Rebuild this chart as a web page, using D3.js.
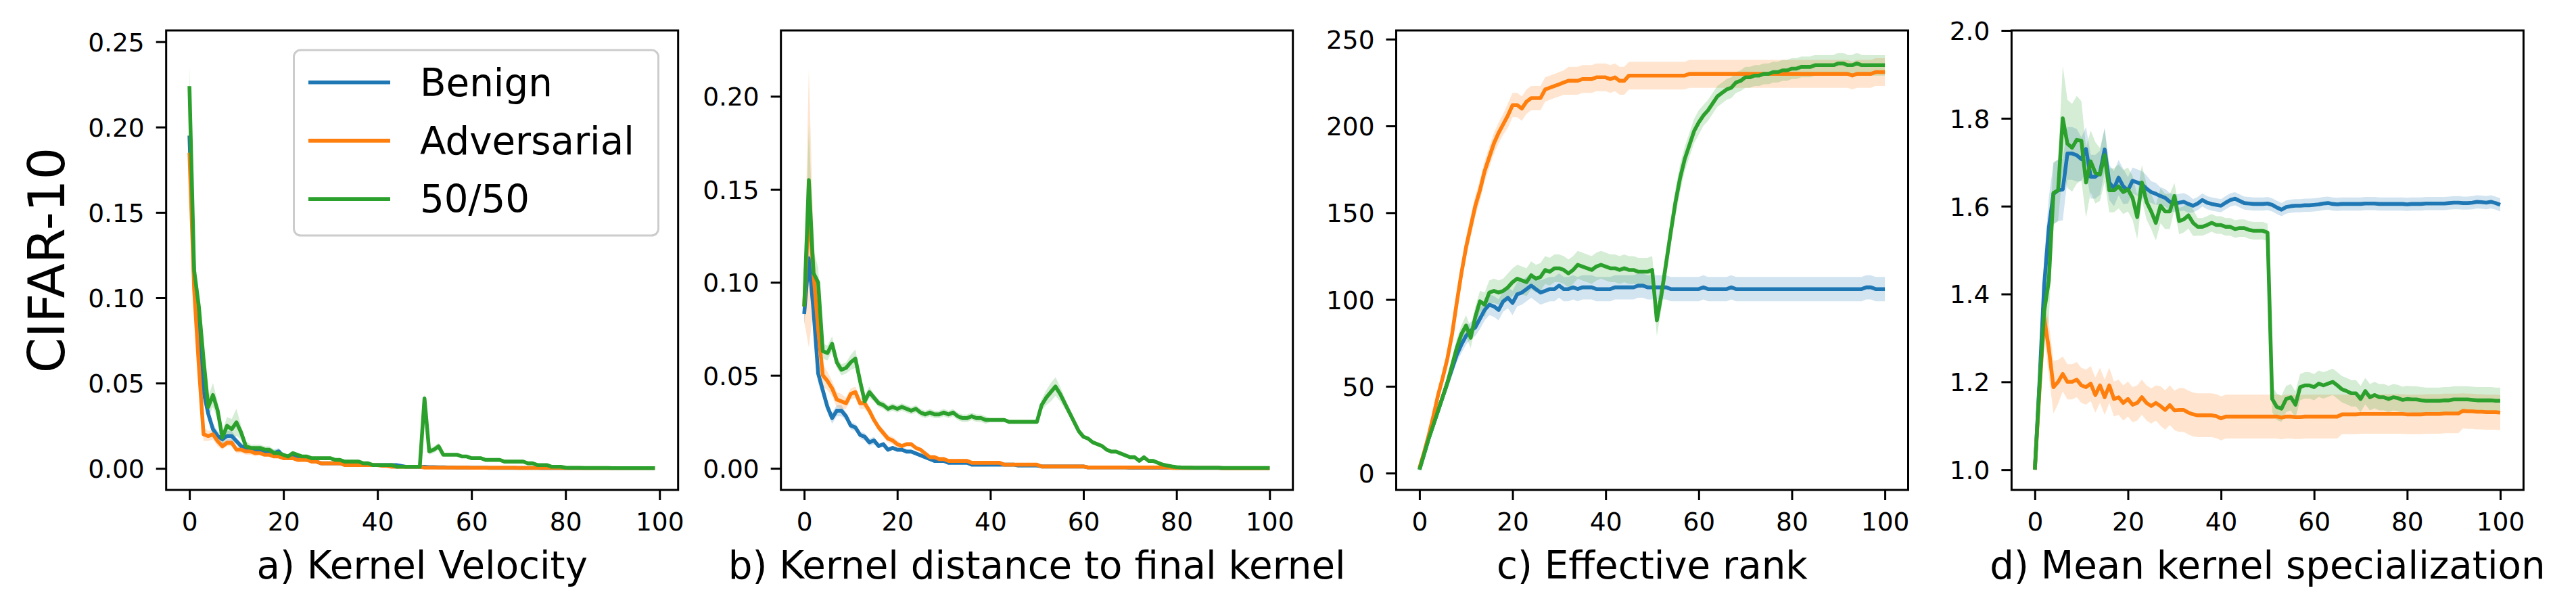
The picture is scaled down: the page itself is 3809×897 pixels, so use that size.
<!DOCTYPE html>
<html>
<head>
<meta charset="utf-8">
<script src="https://cdn.jsdelivr.net/npm/d3@7"></script>
<style>
  html, body { margin: 0; padding: 0; background: #ffffff; }
  svg { display: block; }
  text { font-family: "DejaVu Sans", sans-serif; fill: #000; }
</style>
</head>
<body>
<svg id="chart" width="3809" height="897"></svg>
<script>
// ---------------- DATA ----------------
const seriesNames = ["Benign", "Adversarial", "50/50"];
const panelTitles = ["a) Kernel Velocity", "b) Kernel distance to final kernel", "c) Effective rank", "d) Mean kernel specialization"];
const rowLabel = "CIFAR-10";
const xTicks = [0, 20, 40, 60, 80, 100];
const yTicksA = [0.00, 0.05, 0.10, 0.15, 0.20, 0.25];
const yTicksB = [0.00, 0.05, 0.10, 0.15, 0.20];
const yTicksC = [0, 50, 100, 150, 200, 250];
const yTicksD = [1.0, 1.2, 1.4, 1.6, 1.8, 2.0];

// a) Kernel Velocity (epochs 0..99)
const benignA = [0.195,0.112,0.080,0.045,0.032,0.023,0.019,0.017,0.019,0.019,
0.016,0.013,0.012,0.011,0.011,0.010,0.010,0.009,0.009,0.010,
0.007,0.007,0.008,0.006,0.006,0.005,0.005,0.004,0.003,0.003,
0.003,0.003,0.003,0.003,0.002,0.002,0.002,0.002,0.002,0.002,
0.002,0.002,0.002,0.002,0.002,0.0015,0.001,0.001,0.001,0.001,
0.001,0.0008,0.0008,0.0007,0.0007,0.0006,0.0006,0.0005,0.0005,0.0005,
0.0004,0.0004,0.0004,0.0004,0.0003,0.0003,0.0003,0.0003,0.0003,0.0003,
0.0003,0.0003,0.0003,0.0003,0.0003,0.0002,0.0002,0.0002,0.0002,0.0002,
0.0002,0.0002,0.0002,0.0002,0.0002,0.0002,0.0002,0.0002,0.0002,0.0002,
0.0002,0.0002,0.0002,0.0002,0.0002,0.0002,0.0002,0.0002,0.0002,0.0002];
const advA = [0.185,0.105,0.060,0.020,0.019,0.020,0.016,0.013,0.015,0.015,
0.011,0.011,0.010,0.010,0.009,0.009,0.008,0.008,0.007,0.007,
0.006,0.006,0.006,0.005,0.005,0.005,0.004,0.004,0.003,0.003,
0.003,0.003,0.003,0.002,0.002,0.002,0.002,0.002,0.002,0.002,
0.002,0.0015,0.0015,0.001,0.001,0.001,0.001,0.001,0.001,0.001,
0.0005,0.0005,0.0005,0.0005,0.0005,0.0005,0.0005,0.0005,0.0005,0.0005,
0.0004,0.0004,0.0004,0.0004,0.0004,0.0004,0.0004,0.0004,0.0004,0.0004,
0.0003,0.0003,0.0003,0.0003,0.0003,0.0003,0.0003,0.0003,0.0003,0.0003,
0.0002,0.0002,0.0002,0.0002,0.0002,0.0002,0.0002,0.0002,0.0002,0.0002,
0.0002,0.0002,0.0002,0.0002,0.0002,0.0002,0.0002,0.0002,0.0002,0.0002];
const mixA = [0.224,0.116,0.095,0.064,0.036,0.043,0.034,0.018,0.025,0.023,
0.027,0.021,0.013,0.012,0.012,0.012,0.011,0.011,0.009,0.009,
0.008,0.007,0.009,0.008,0.007,0.007,0.006,0.006,0.006,0.006,
0.006,0.005,0.005,0.004,0.004,0.004,0.004,0.003,0.003,0.002,
0.002,0.002,0.002,0.002,0.001,0.001,0.001,0.001,0.001,0.001,
0.041,0.010,0.011,0.013,0.008,0.008,0.008,0.008,0.007,0.007,
0.006,0.006,0.006,0.005,0.005,0.005,0.005,0.004,0.004,0.004,
0.004,0.004,0.003,0.003,0.002,0.002,0.002,0.001,0.001,0.001,
0.0005,0.0004,0.0004,0.0004,0.0003,0.0003,0.0003,0.0003,0.0003,0.0003,
0.0002,0.0002,0.0002,0.0002,0.0002,0.0002,0.0002,0.0002,0.0002,0.0002];
const benignStdA = [0.010,0.008,0.006,0.005,0.004,0.003,0.003,0.003,0.003,0.003,
0.002,0.002,0.002,0.002,0.002,0.002,0.002,0.002,0.002,0.002,
0.001,0.001,0.001,0.001,0.001,0.001,0.001,0.001,0.001,0.001,
0.001,0.001,0.001,0.001,0.001,0.001,0.001,0.001,0.001,0.001,
0.001,0.001,0.001,0.001,0.001,0.001,0.001,0.001,0.001,0.001,
0.0005,0.0005,0.0005,0.0005,0.0005,0.0005,0.0005,0.0005,0.0005,0.0005,
0.0003,0.0003,0.0003,0.0003,0.0003,0.0003,0.0003,0.0003,0.0003,0.0003,
0.0002,0.0002,0.0002,0.0002,0.0002,0.0002,0.0002,0.0002,0.0002,0.0002,
0.0001,0.0001,0.0001,0.0001,0.0001,0.0001,0.0001,0.0001,0.0001,0.0001,
0.0001,0.0001,0.0001,0.0001,0.0001,0.0001,0.0001,0.0001,0.0001,0.0001];
const advStdA = [0.008,0.010,0.008,0.004,0.003,0.003,0.003,0.002,0.002,0.002,
0.002,0.002,0.002,0.002,0.002,0.001,0.001,0.001,0.001,0.001,
0.001,0.001,0.001,0.001,0.001,0.001,0.001,0.001,0.001,0.001,
0.001,0.001,0.001,0.001,0.001,0.001,0.001,0.001,0.001,0.001,
0.0005,0.0005,0.0005,0.0005,0.0005,0.0005,0.0005,0.0005,0.0005,0.0005,
0.0003,0.0003,0.0003,0.0003,0.0003,0.0003,0.0003,0.0003,0.0003,0.0003,
0.0002,0.0002,0.0002,0.0002,0.0002,0.0002,0.0002,0.0002,0.0002,0.0002,
0.0001,0.0001,0.0001,0.0001,0.0001,0.0001,0.0001,0.0001,0.0001,0.0001,
0.0001,0.0001,0.0001,0.0001,0.0001,0.0001,0.0001,0.0001,0.0001,0.0001,
0.0001,0.0001,0.0001,0.0001,0.0001,0.0001,0.0001,0.0001,0.0001,0.0001];
const mixStdA = [0.012,0.010,0.008,0.007,0.006,0.007,0.005,0.004,0.005,0.006,
0.008,0.004,0.003,0.002,0.002,0.002,0.002,0.002,0.002,0.002,
0.001,0.001,0.001,0.001,0.001,0.001,0.001,0.001,0.001,0.001,
0.001,0.001,0.001,0.001,0.001,0.001,0.001,0.001,0.001,0.001,
0.001,0.001,0.001,0.001,0.001,0.001,0.001,0.001,0.001,0.001,
0.003,0.002,0.002,0.002,0.001,0.001,0.001,0.001,0.001,0.001,
0.001,0.001,0.001,0.001,0.001,0.001,0.001,0.001,0.001,0.001,
0.001,0.001,0.001,0.001,0.001,0.001,0.001,0.0005,0.0005,0.0005,
0.0003,0.0003,0.0003,0.0003,0.0002,0.0002,0.0002,0.0002,0.0002,0.0002,
0.0001,0.0001,0.0001,0.0001,0.0001,0.0001,0.0001,0.0001,0.0001,0.0001];

// b) Kernel distance to final kernel (epochs 0..100)
const benignB = [0.083,0.113,0.085,0.051,0.042,0.033,0.027,0.031,0.031,0.028,
0.023,0.022,0.018,0.017,0.014,0.015,0.012,0.013,0.010,0.011,
0.010,0.010,0.009,0.009,0.008,0.007,0.006,0.005,0.004,0.004,
0.004,0.003,0.003,0.003,0.003,0.003,0.002,0.002,0.002,0.002,
0.002,0.002,0.002,0.002,0.002,0.002,0.0015,0.0015,0.0015,0.0015,
0.0015,0.001,0.001,0.001,0.001,0.001,0.001,0.001,0.001,0.001,
0.001,0.0005,0.0005,0.0005,0.0005,0.0005,0.0005,0.0005,0.0005,0.0005,
0.0003,0.0003,0.0003,0.0003,0.0003,0.0003,0.0003,0.0003,0.0003,0.0003,
0.0002,0.0002,0.0002,0.0002,0.0002,0.0002,0.0002,0.0002,0.0002,0.0002,
0.0001,0.0001,0.0001,0.0001,0.0001,0.0001,0.0001,0.0001,0.0001,0.0001,0.0];
const advB = [0.087,0.140,0.105,0.075,0.050,0.047,0.043,0.037,0.036,0.035,
0.040,0.041,0.035,0.035,0.031,0.026,0.022,0.019,0.016,0.015,
0.013,0.012,0.013,0.013,0.011,0.010,0.008,0.006,0.006,0.005,
0.005,0.004,0.004,0.004,0.004,0.004,0.003,0.003,0.003,0.003,
0.003,0.003,0.003,0.002,0.002,0.002,0.002,0.002,0.002,0.002,
0.002,0.001,0.001,0.001,0.001,0.001,0.001,0.001,0.001,0.001,
0.001,0.0005,0.0005,0.0005,0.0005,0.0005,0.0005,0.0005,0.0005,0.0005,
0.0005,0.0005,0.0005,0.0005,0.0005,0.0005,0.0005,0.0005,0.0005,0.0002,
0.0002,0.0002,0.0002,0.0002,0.0002,0.0002,0.0002,0.0002,0.0002,0.0002,
0.0001,0.0001,0.0001,0.0001,0.0001,0.0001,0.0001,0.0001,0.0001,0.0001,0.0];
const mixB = [0.087,0.155,0.105,0.100,0.063,0.062,0.067,0.057,0.053,0.054,
0.057,0.059,0.047,0.036,0.041,0.038,0.035,0.034,0.032,0.033,
0.032,0.033,0.032,0.031,0.032,0.030,0.029,0.030,0.029,0.029,
0.030,0.029,0.030,0.028,0.027,0.027,0.028,0.027,0.027,0.026,
0.026,0.026,0.026,0.026,0.025,0.025,0.025,0.025,0.025,0.025,
0.025,0.034,0.038,0.041,0.044,0.040,0.035,0.030,0.025,0.020,
0.017,0.016,0.014,0.013,0.012,0.010,0.009,0.009,0.008,0.007,
0.006,0.006,0.004,0.006,0.004,0.004,0.003,0.002,0.0015,0.001,
0.0007,0.0005,0.0004,0.0004,0.0003,0.0003,0.0003,0.0003,0.0003,0.0003,
0.0002,0.0002,0.0002,0.0002,0.0002,0.0002,0.0002,0.0002,0.0002,0.0002,0.0002];
const benignStdB = [0.006,0.010,0.008,0.005,0.004,0.003,0.003,0.003,0.003,0.002,
0.002,0.002,0.002,0.002,0.002,0.002,0.001,0.001,0.001,0.001,
0.001,0.001,0.001,0.001,0.001,0.001,0.001,0.001,0.001,0.001,
0.001,0.001,0.001,0.001,0.001,0.001,0.001,0.001,0.001,0.001,
0.0005,0.0005,0.0005,0.0005,0.0005,0.0005,0.0005,0.0005,0.0005,0.0005,
0.0003,0.0003,0.0003,0.0003,0.0003,0.0003,0.0003,0.0003,0.0003,0.0003,
0.0002,0.0002,0.0002,0.0002,0.0002,0.0002,0.0002,0.0002,0.0002,0.0002,
0.0001,0.0001,0.0001,0.0001,0.0001,0.0001,0.0001,0.0001,0.0001,0.0001,
0.0001,0.0001,0.0001,0.0001,0.0001,0.0001,0.0001,0.0001,0.0001,0.0001,
0.0,0.0,0.0,0.0,0.0,0.0,0.0,0.0,0.0,0.0,0.0];
const advStdB = [0.008,0.075,0.020,0.010,0.006,0.005,0.004,0.004,0.004,0.003,
0.003,0.003,0.003,0.003,0.002,0.002,0.002,0.002,0.002,0.002,
0.002,0.001,0.001,0.001,0.001,0.001,0.001,0.001,0.001,0.001,
0.001,0.001,0.001,0.001,0.001,0.001,0.001,0.001,0.001,0.001,
0.0005,0.0005,0.0005,0.0005,0.0005,0.0005,0.0005,0.0005,0.0005,0.0005,
0.0003,0.0003,0.0003,0.0003,0.0003,0.0003,0.0003,0.0003,0.0003,0.0003,
0.0002,0.0002,0.0002,0.0002,0.0002,0.0002,0.0002,0.0002,0.0002,0.0002,
0.0001,0.0001,0.0001,0.0001,0.0001,0.0001,0.0001,0.0001,0.0001,0.0001,
0.0001,0.0001,0.0001,0.0001,0.0001,0.0001,0.0001,0.0001,0.0001,0.0001,
0.0,0.0,0.0,0.0,0.0,0.0,0.0,0.0,0.0,0.0,0.0];
const mixStdB = [0.006,0.030,0.012,0.008,0.004,0.004,0.004,0.003,0.003,0.003,
0.004,0.005,0.004,0.003,0.003,0.002,0.002,0.002,0.002,0.002,
0.002,0.002,0.002,0.002,0.002,0.002,0.002,0.002,0.002,0.002,
0.002,0.002,0.002,0.002,0.002,0.002,0.002,0.002,0.002,0.002,
0.001,0.001,0.001,0.001,0.001,0.001,0.001,0.001,0.001,0.001,
0.001,0.003,0.004,0.005,0.005,0.004,0.003,0.002,0.002,0.002,
0.001,0.001,0.001,0.001,0.001,0.001,0.001,0.001,0.001,0.001,
0.001,0.001,0.001,0.001,0.001,0.001,0.001,0.0005,0.0005,0.0005,
0.0003,0.0003,0.0003,0.0003,0.0002,0.0002,0.0002,0.0002,0.0002,0.0002,
0.0001,0.0001,0.0001,0.0001,0.0001,0.0001,0.0001,0.0001,0.0001,0.0001,0.0001];

// c) Effective rank (epochs 0..100)
const benignC = [2,11,20,28,36,44,52,60,68,74,
79,82,84,89,94,97,96,94,99,101,
98,103,104,106,108,106,104,105,106,106,
108,106,106,107,106,107,107,107,106,106,
106,106,107,107,107,107,107,108,108,107,
107,107,107,107,106,106,106,106,106,106,
106,107,106,106,106,106,106,107,106,106,
106,106,106,106,106,106,106,106,106,106,
106,106,106,106,106,106,106,106,106,106,
106,106,106,106,106,106,107,107,106,106,106];
const advC = [3,12,22,33,45,55,66,80,98,115,
130,142,154,163,174,182,190,196,201,206,
212,212,210,214,216,216,216,221,222,223,
224,225,226,226,226,227,227,227,228,228,
228,227,228,226,226,229,229,229,229,229,
229,229,229,229,229,229,229,229,230,230,
230,230,230,230,230,230,230,230,230,230,
230,230,230,230,230,230,230,230,230,230,
230,230,230,230,230,230,230,230,230,230,
230,230,230,229,230,230,230,230,231,231,231];
const mixC = [2,11,20,28,36,44,52,62,72,80,
85,78,90,99,97,104,105,104,105,107,
110,112,111,110,114,112,113,117,116,118,
118,117,115,117,120,119,118,117,119,120,
119,118,118,117,118,117,117,116,116,116,
117,88,103,121,139,156,170,181,189,197,
202,206,209,213,217,219,221,222,225,226,
228,228,229,229,230,230,231,231,232,232,
233,233,234,234,234,235,235,235,235,235,
236,236,235,235,236,235,235,235,235,235,235];
const benignStdC = [1,2,2,3,3,3,4,4,4,5,
5,5,5,6,6,6,6,6,6,6,
7,7,7,7,7,7,7,7,7,7,
7,7,7,7,7,7,7,7,7,7,
7,7,7,7,7,7,7,7,7,7,
7,7,7,7,7,7,7,7,7,7,
7,7,7,7,7,7,7,7,7,7,
7,7,7,7,7,7,7,7,7,7,
7,7,7,7,7,7,7,7,7,7,
7,7,7,7,7,7,7,7,7,7,7];
const advStdC = [1,2,3,3,4,4,5,5,6,6,
6,6,6,6,6,6,6,6,6,7,
7,7,7,7,7,7,7,7,7,7,
7,7,8,8,8,8,8,8,8,8,
8,8,8,8,8,8,8,8,8,8,
8,8,8,8,8,8,8,8,8,8,
8,8,8,8,8,8,8,8,8,8,
8,8,8,8,8,8,8,8,8,8,
8,8,8,8,8,8,8,8,8,8,
8,8,8,8,8,8,8,8,8,8,8];
const mixStdC = [1,2,2,3,3,3,4,4,5,5,
6,6,6,6,7,7,7,7,7,8,
8,8,8,8,8,8,8,8,8,8,
8,8,8,8,8,8,8,8,8,8,
8,8,8,8,8,8,8,8,8,8,
8,9,8,8,8,8,8,7,7,7,
7,6,6,6,6,6,6,6,6,6,
6,6,6,6,6,6,6,6,6,6,
6,6,6,6,6,6,6,6,6,6,
6,6,6,6,6,6,6,6,6,6,6];

// d) Mean kernel specialization (epochs 0..100)
const benignD = [1.00,1.20,1.42,1.55,1.628,1.636,1.638,1.72,1.72,1.716,
1.707,1.73,1.667,1.667,1.676,1.729,1.654,1.64,1.665,1.645,
1.636,1.658,1.654,1.65,1.64,1.632,1.628,1.623,1.619,1.61,
1.606,1.608,1.61,1.605,1.601,1.606,1.614,1.608,1.605,1.603,
1.601,1.608,1.614,1.617,1.612,1.607,1.606,1.605,1.605,1.605,
1.606,1.603,1.597,1.592,1.598,1.6,1.601,1.601,1.602,1.602,
1.603,1.604,1.606,1.607,1.605,1.604,1.605,1.605,1.605,1.605,
1.605,1.606,1.606,1.606,1.605,1.605,1.605,1.605,1.605,1.605,
1.604,1.605,1.605,1.605,1.606,1.606,1.606,1.606,1.606,1.607,
1.608,1.608,1.607,1.607,1.608,1.61,1.609,1.608,1.61,1.607,1.603];
const advD = [1.00,1.18,1.346,1.276,1.188,1.20,1.218,1.20,1.20,1.205,
1.192,1.188,1.196,1.17,1.192,1.165,1.192,1.161,1.165,1.152,
1.161,1.148,1.152,1.165,1.152,1.145,1.152,1.145,1.136,1.147,
1.135,1.136,1.136,1.13,1.126,1.124,1.124,1.124,1.124,1.122,
1.117,1.121,1.121,1.121,1.121,1.121,1.121,1.121,1.121,1.121,
1.121,1.121,1.121,1.119,1.121,1.121,1.12,1.12,1.121,1.121,
1.121,1.121,1.121,1.121,1.121,1.121,1.126,1.126,1.126,1.126,
1.127,1.127,1.127,1.127,1.127,1.127,1.127,1.127,1.127,1.127,
1.126,1.126,1.126,1.126,1.127,1.127,1.127,1.127,1.128,1.128,
1.128,1.128,1.134,1.133,1.133,1.132,1.132,1.131,1.131,1.131,1.13];
const mixD = [1.00,1.19,1.36,1.43,1.63,1.636,1.80,1.742,1.733,1.751,
1.749,1.654,1.702,1.676,1.672,1.716,1.636,1.636,1.645,1.632,
1.638,1.619,1.575,1.654,1.61,1.588,1.562,1.601,1.588,1.588,
1.623,1.566,1.57,1.579,1.562,1.553,1.553,1.557,1.562,1.557,
1.557,1.553,1.553,1.548,1.55,1.55,1.546,1.544,1.544,1.544,
1.54,1.161,1.143,1.139,1.161,1.165,1.148,1.188,1.192,1.192,
1.188,1.196,1.192,1.196,1.20,1.192,1.183,1.179,1.174,1.174,
1.161,1.179,1.165,1.17,1.165,1.165,1.161,1.165,1.163,1.159,
1.161,1.16,1.16,1.158,1.157,1.157,1.157,1.157,1.158,1.158,
1.16,1.16,1.16,1.16,1.159,1.158,1.158,1.158,1.158,1.157,1.157];
const benignStdD = [0.0,0.04,0.06,0.07,0.07,0.07,0.07,0.06,0.06,0.06,
0.05,0.05,0.05,0.05,0.05,0.05,0.04,0.04,0.04,0.04,
0.03,0.03,0.03,0.03,0.03,0.025,0.025,0.02,0.02,0.02,
0.02,0.02,0.02,0.02,0.015,0.015,0.015,0.015,0.015,0.015,
0.015,0.015,0.015,0.015,0.015,0.015,0.015,0.015,0.015,0.015,
0.015,0.015,0.015,0.015,0.015,0.015,0.015,0.015,0.015,0.015,
0.015,0.015,0.015,0.015,0.015,0.015,0.015,0.015,0.015,0.015,
0.015,0.015,0.015,0.015,0.015,0.015,0.015,0.015,0.015,0.015,
0.015,0.015,0.015,0.015,0.015,0.015,0.015,0.015,0.015,0.015,
0.015,0.015,0.015,0.015,0.015,0.015,0.015,0.015,0.015,0.015,0.015];
const advStdD = [0.0,0.03,0.04,0.06,0.06,0.05,0.04,0.04,0.04,0.04,
0.04,0.04,0.04,0.04,0.04,0.04,0.04,0.04,0.04,0.04,
0.04,0.04,0.04,0.04,0.04,0.04,0.04,0.045,0.045,0.045,
0.045,0.05,0.05,0.05,0.05,0.05,0.05,0.05,0.05,0.05,
0.05,0.05,0.05,0.05,0.05,0.05,0.05,0.05,0.05,0.05,
0.05,0.05,0.05,0.05,0.05,0.05,0.05,0.05,0.05,0.05,
0.05,0.05,0.05,0.05,0.05,0.05,0.045,0.045,0.045,0.045,
0.045,0.045,0.045,0.045,0.045,0.045,0.045,0.045,0.045,0.045,
0.045,0.045,0.045,0.045,0.045,0.045,0.045,0.045,0.045,0.045,
0.045,0.045,0.04,0.04,0.04,0.04,0.04,0.04,0.04,0.04,0.04];
const mixStdD = [0.0,0.05,0.08,0.09,0.07,0.07,0.12,0.10,0.10,0.10,
0.09,0.08,0.07,0.07,0.06,0.06,0.05,0.05,0.05,0.05,
0.05,0.05,0.05,0.04,0.04,0.04,0.04,0.04,0.04,0.04,
0.03,0.03,0.03,0.03,0.03,0.02,0.02,0.02,0.02,0.02,
0.02,0.02,0.02,0.02,0.02,0.02,0.02,0.02,0.02,0.02,
0.02,0.03,0.03,0.03,0.03,0.03,0.03,0.03,0.03,0.03,
0.03,0.03,0.03,0.03,0.03,0.03,0.03,0.03,0.03,0.03,
0.03,0.03,0.03,0.03,0.03,0.03,0.03,0.03,0.03,0.03,
0.03,0.03,0.03,0.03,0.03,0.03,0.03,0.03,0.03,0.03,
0.03,0.03,0.03,0.03,0.03,0.03,0.03,0.03,0.03,0.03,0.03];

// ---------------- LAYOUT ----------------
const colors = ["#1f77b4", "#ff7f0e", "#2ca02c"];
const panels = [
  { means: [benignA, advA, mixA], stds: [benignStdA, advStdA, mixStdA], yTicks: yTicksA, yDomain: [-0.0126, 0.2566], xDomain: [-4.95, 103.95], fmt: d3.format(".2f"), left: 245.7 },
  { means: [benignB, advB, mixB], stds: [benignStdB, advStdB, mixStdB], yTicks: yTicksB, yDomain: [-0.0116, 0.2354], xDomain: [-5, 105], fmt: d3.format(".2f"), left: 1154.7 },
  { means: [benignC, advC, mixC], stds: [benignStdC, advStdC, mixStdC], yTicks: yTicksC, yDomain: [-9.7, 255], xDomain: [-5, 105], fmt: d3.format("d"), left: 2064.5 },
  { means: [benignD, advD, mixD], stds: [benignStdD, advStdD, mixStdD], yTicks: yTicksD, yDomain: [0.954, 2.0], xDomain: [-5, 105], fmt: d3.format(".1f"), left: 2974.4 }
];
const W = 757, TOP = 45, H = 679;
const tickFont = 37.5, labelFont = 56.25, rowFont = 75;
const tickLen = 15, lineW = 5.6, spineW = 3;

const svg = d3.select("#chart");
svg.append("rect").attr("width", 3809).attr("height", 897).attr("fill", "#fff");

panels.forEach((p, pi) => {
  const x = d3.scaleLinear().domain(p.xDomain).range([p.left, p.left + W]);
  const y = d3.scaleLinear().domain(p.yDomain).range([TOP + H, TOP]);
  const g = svg.append("g");
  const clipId = "clip" + pi;
  svg.append("clipPath").attr("id", clipId).append("rect")
    .attr("x", p.left).attr("y", TOP).attr("width", W).attr("height", H);

  const plot = g.append("g").attr("clip-path", `url(#${clipId})`);
  // bands
  p.means.forEach((m, si) => {
    const sd = p.stds[si];
    const area = d3.area()
      .x((d, i) => x(i))
      .y0((d, i) => y(d - sd[i]))
      .y1((d, i) => y(d + sd[i]));
    plot.append("path").attr("d", area(m))
      .attr("fill", colors[si]).attr("fill-opacity", 0.2).attr("stroke", "none");
  });
  // lines
  p.means.forEach((m, si) => {
    const line = d3.line().x((d, i) => x(i)).y(d => y(d));
    plot.append("path").attr("d", line(m))
      .attr("fill", "none").attr("stroke", colors[si])
      .attr("stroke-width", lineW).attr("stroke-linejoin", "round").attr("stroke-linecap", "butt");
  });

  // axes
  const xAxis = d3.axisBottom(x).tickValues(xTicks).tickSize(tickLen).tickPadding(16).tickFormat(d3.format("d"));
  const gx = g.append("g").attr("transform", `translate(0,${TOP + H})`).call(xAxis);
  const yAxis = d3.axisLeft(y).tickValues(p.yTicks).tickSize(tickLen).tickPadding(17).tickFormat(p.fmt);
  const gy = g.append("g").attr("transform", `translate(${p.left},0)`).call(yAxis);
  [gx, gy].forEach(ax => {
    ax.select(".domain").remove();
    ax.selectAll(".tick line").attr("stroke", "#000").attr("stroke-width", spineW);
    ax.selectAll(".tick text").attr("font-size", tickFont).attr("font-family", "DejaVu Sans").attr("fill", "#000");
  });
  gx.selectAll(".tick text").attr("dy", "0.76em");
  gy.selectAll(".tick text").attr("dy", "0.36em");

  // spines
  g.append("rect").attr("x", p.left).attr("y", TOP).attr("width", W).attr("height", H)
    .attr("fill", "none").attr("stroke", "#000").attr("stroke-width", spineW);

  // x label
  g.append("text").attr("x", p.left + W / 2).attr("y", 855)
    .attr("text-anchor", "middle").attr("font-size", labelFont).text(panelTitles[pi]);

  if (pi === 0) {
    // row label
    svg.append("text").attr("transform", `translate(95,${TOP + H / 2}) rotate(-90)`)
      .attr("text-anchor", "middle").attr("font-size", rowFont).text(rowLabel);
    // legend
    const lg = svg.append("g");
    lg.append("rect").attr("x", 434.5).attr("y", 74).attr("width", 539).attr("height", 274)
      .attr("rx", 10).attr("fill", "#fff").attr("fill-opacity", 0.8)
      .attr("stroke", "#cccccc").attr("stroke-width", 3);
    seriesNames.forEach((name, si) => {
      const yy = 121.7 + si * 86.2;
      lg.append("line").attr("x1", 456).attr("x2", 577).attr("y1", yy).attr("y2", yy)
        .attr("stroke", colors[si]).attr("stroke-width", lineW);
      lg.append("text").attr("x", 621).attr("y", yy).attr("dy", "0.36em")
        .attr("font-size", labelFont).text(name);
    });
  }
});
</script>
</body>
</html>
